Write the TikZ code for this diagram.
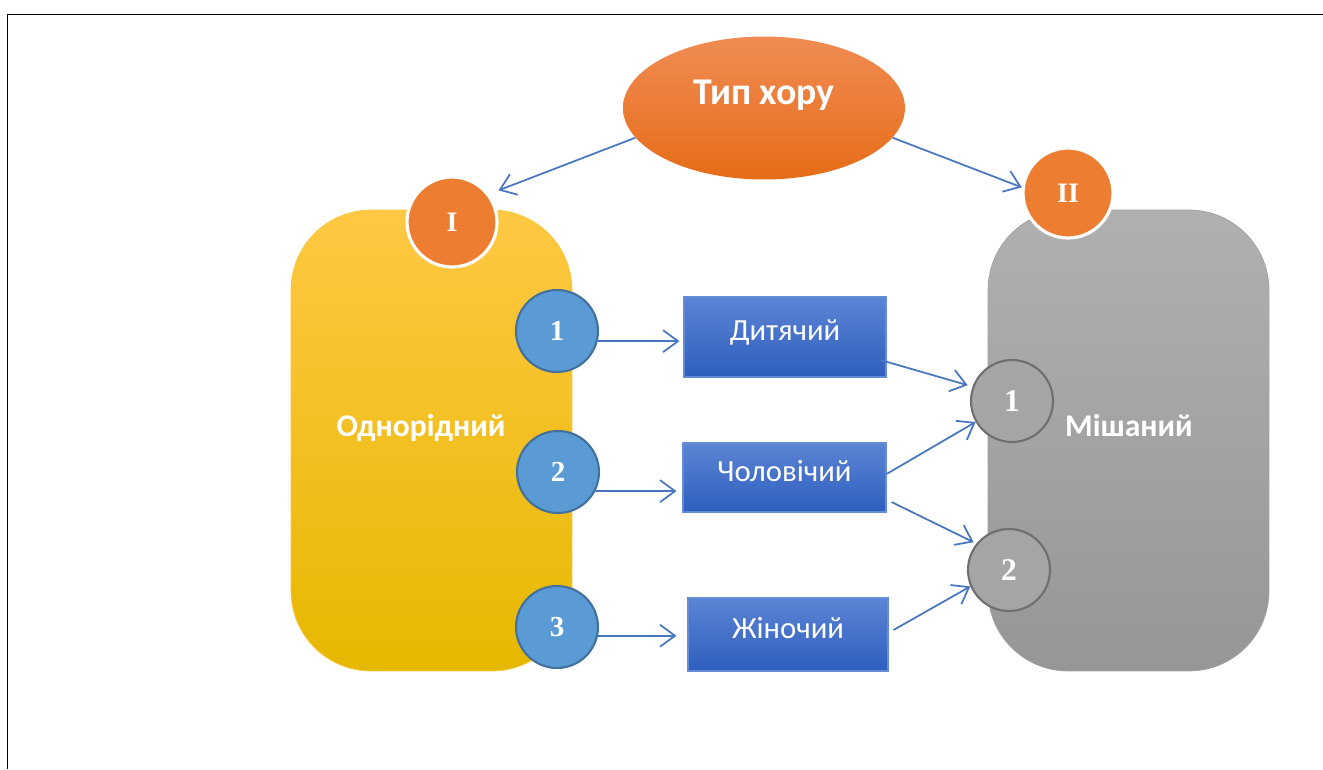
\documentclass[tikz,border=0pt]{standalone}
\usepackage{fontspec}
\setmainfont{Liberation Serif}
\setsansfont{Carlito}
\usetikzlibrary{arrows.meta,shapes.geometric}

\definecolor{arrowblue}{RGB}{72,118,192}
\definecolor{chorange}{RGB}{237,125,49}
\definecolor{numblue}{RGB}{91,155,213}
\definecolor{numblueline}{RGB}{65,113,156}
\definecolor{numgray}{RGB}{165,165,165}
\definecolor{numgrayline}{RGB}{111,111,111}

\begin{document}
\begin{tikzpicture}[x=0.02cm, y=-0.02cm,
        arr/.style={draw=arrowblue, line width=1pt, -{Straight Barb[length=0.3cm,width=0.44cm]}},
        bigbox/.style={rounded corners=1.6cm, minimum width=5.62cm, minimum height=9.22cm},
        kind/.style={draw={rgb,255:red,100;green,140;blue,215}, line width=0.6pt, top color={rgb,255:red,92;green,132;blue,212},
            bottom color={rgb,255:red,46;green,94;blue,190}, text=white, text depth=0.26cm,
            font=\sffamily\fontsize{17.5}{20}\selectfont},
        roman/.style={circle, fill=chorange, draw=white, line width=1.8pt, minimum size=1.8cm, text=white,
            font=\bfseries\fontsize{16}{18}\selectfont},
        bluenum/.style={circle, fill=numblue, draw=numblueline, line width=1.2pt, minimum size=1.64cm, text=white,
            font=\bfseries\fontsize{16.5}{18}\selectfont},
        graynum/.style={circle, fill=numgray, draw=numgrayline, line width=1.2pt, minimum size=1.64cm, text=white,
            font=\bfseries\fontsize{18}{20}\selectfont},
        title/.style={text=white, font=\sffamily\bfseries\fontsize{18}{21}\selectfont}]
        \useasboundingbox (0,0) rectangle (1323,769);
        \draw[line width=0.8pt] (7.5,769) -- (7.5,14.5) -- (1323,14.5);

        % type of choir
        \node[ellipse, minimum width=5.64cm, minimum height=2.86cm, top color={rgb,255:red,240;green,140;blue,84},
            middle color={rgb,255:red,240;green,126;blue,47}, bottom color={rgb,255:red,230;green,108;blue,23},
            label={[text=white, font=\sffamily\bfseries\fontsize{21.5}{25}\selectfont, yshift=0.26cm]center:Тип хору}]
            (typ) at (764,108) {};

        % the two groups
        \node[bigbox, draw={rgb,255:red,250;green,200;blue,60}, top color={rgb,255:red,255;green,200;blue,68},
            middle color={rgb,255:red,255;green,194;blue,0}, bottom color={rgb,255:red,230;green,184;blue,0}]
            (odn) at (431.5,440.5) {};
        \node[title] at (421,428) {Однорідний};
        \node[bigbox, draw={rgb,255:red,160;green,160;blue,160}, top color={rgb,255:red,176;green,176;blue,176},
            bottom color={rgb,255:red,150;green,150;blue,150}]
            (mish) at (1128.5,440.5) {};
        \node[title] at (1129,426) {Мішаний};

        \node[roman] (I) at (452,222) {I};
        \node[roman] (II) at (1068,193) {II};

        \node[bluenum] (n1) at (557,331) {1};
        \node[bluenum] (n2) at (558,472) {2};
        \node[bluenum] (n3) at (557,627) {3};

        \node[kind, minimum width=4.04cm, minimum height=1.6cm] (dyt) at (785,337) {Дитячий};
        \node[kind, minimum width=4.06cm, minimum height=1.38cm] (chol) at (784.5,477.5) {Чоловічий};
        \node[kind, minimum width=4.0cm, minimum height=1.46cm] (zhin) at (788,634.5) {Жіночий};

        \node[graynum] (m1) at (1012,401) {1};
        \node[graynum] (m2) at (1009,570) {2};

        \draw[arr, shorten >=0.2cm] (typ.193) -- (I.37);
        \draw[arr] (typ.347) -- (II.173);
        \draw[arr, shorten >=0.08cm] (n1.-14) -- (n1.-14 -| dyt.west);
        \draw[arr, shorten >=0.12cm] (n2.-27) -- (n2.-27 -| chol.west);
        \draw[arr, shorten >=0.22cm] (n3.-12) -- (n3.-12 -| zhin.west);
        \draw[arr, shorten >=0.1cm] ([xshift=-0.12cm,yshift=-0.46cm]dyt.east) -- (m1.160);
        \draw[arr] ([yshift=0.07cm]chol.east) -- (m1.210);
        \draw[arr, shorten >=0.06cm] ([xshift=0.1cm,yshift=-0.49cm]chol.east) -- (m2.141);
        \draw[arr] ([xshift=0.1cm,yshift=0.09cm]zhin.east) -- (m2.203);
    \end{tikzpicture}
\end{document}
